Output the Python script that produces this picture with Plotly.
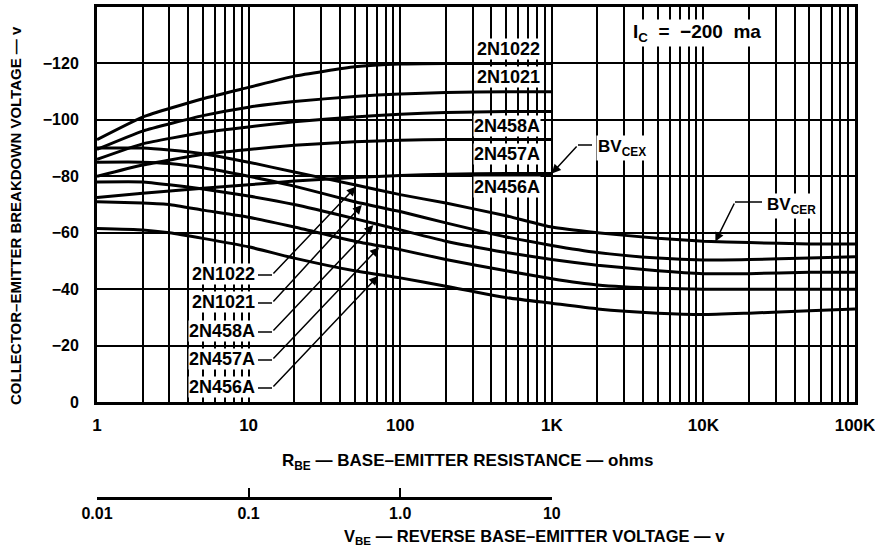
import numpy as np
import plotly.graph_objects as go

# ---------------- data ----------------
DEVICES = ["2N1022", "2N1021", "2N458A", "2N457A", "2N456A"]

# BV_CEX curves (rising), R_BE in ohms
R_CEX = [1, 2, 5, 10, 20, 50, 100, 200, 500, 1000]
CEX_2N1022 = [-93, -101, -107.5, -111.5, -115.5, -118.8, -119.8, -120, -120, -120]
CEX_2N1021 = [-89.5, -96, -101.5, -104.5, -106.5, -108.3, -109.2, -109.7, -110, -110]
CEX_2N458A = [-86, -91.5, -95.5, -97.5, -99.3, -101, -102, -102.6, -103, -103]
CEX_2N457A = [-80, -84, -87.8, -89.5, -91, -92.2, -92.8, -93, -93, -93]
CEX_2N456A = [-72.5, -74, -75.8, -77, -78.3, -79.6, -80.3, -80.7, -81, -81]

# BV_CER curves (falling)
R_CER = [1, 2, 3, 5, 10, 20, 50, 100, 200, 500, 1000, 2000, 5000, 10000, 20000, 50000, 100000]
CER_2N1022 = [-90, -90, -89.3, -88, -85, -81.5, -77, -73.5, -70.5, -66, -62, -60, -58, -57, -56.5, -56, -56]
CER_2N1021 = [-85, -85, -84.5, -83, -80, -76.5, -71, -67.5, -63.5, -58.5, -55.5, -53, -51, -50.3, -50.5, -51, -51.5]
CER_2N458A = [-78, -78, -77, -75.5, -73, -70, -65, -61, -57, -53, -50.5, -48.5, -46.5, -45.5, -45.5, -46, -46]
CER_2N457A = [-71, -70.5, -70, -68, -65.5, -62, -57, -54, -50.5, -46.5, -43.7, -41.5, -40.3, -40, -40, -40, -40]
CER_2N456A = [-61.5, -61, -60, -58, -55, -51, -46.5, -44, -41, -37, -35, -33, -31.5, -31, -31.5, -32.3, -33]

X_TICK_VALUES = [1, 10, 100, 1000, 10000, 100000]
X_TICK_LABELS = ["1", "10", "100", "1K", "10K", "100K"]
Y_TICK_VALUES = [0, -20, -40, -60, -80, -100, -120]
VBE_TICK_VALUES = [0.01, 0.1, 1, 10]
VBE_TICK_LABELS = ["0.01", "0.1", "1.0", "10"]

CEX_SERIES = [CEX_2N1022, CEX_2N1021, CEX_2N458A, CEX_2N457A, CEX_2N456A]
CER_SERIES = [CER_2N1022, CER_2N1021, CER_2N458A, CER_2N457A, CER_2N456A]

# ---------------- layout geometry (pixels) ----------------
W, H = 875, 548
ML, MR, MT, MB = 97, 20, 7, 51
PLOT_W = W - ML - MR          # 758
PAPER_H = H - MT - MB         # 490
Y_AXIS_BOTTOM = 402
Y_DOMAIN0 = (H - MB - Y_AXIS_BOTTOM) / PAPER_H
X_DEC = PLOT_W / 5.0
Y_PX_PER_UNIT = (Y_AXIS_BOTTOM - MT) / 140.0


def pxx(xp):
    return (xp - ML) / PLOT_W


def pxy(yp):
    return (H - MB - yp) / PAPER_H


def data_to_px(r, v):
    return ML + X_DEC * np.log10(r), Y_AXIS_BOTTOM - Y_PX_PER_UNIT * abs(v)


FONT = "Liberation Sans, Arial, sans-serif"
NARROW = "Liberation Sans Narrow, Liberation Sans, Arial, sans-serif"
CURVE_LINE = dict(color="black", width=3, shape="spline", smoothing=0.45)

fig = go.Figure()
for vals in CEX_SERIES:
    fig.add_trace(go.Scatter(x=R_CEX, y=vals, mode="lines", line=CURVE_LINE,
                             showlegend=False, hoverinfo="skip"))
for vals in CER_SERIES:
    fig.add_trace(go.Scatter(x=R_CER, y=vals, mode="lines", line=CURVE_LINE,
                             showlegend=False, hoverinfo="skip"))
# invisible trace carrying the secondary (V_BE) axis, on its own tiny hidden y axis
fig.add_trace(go.Scatter(x=VBE_TICK_VALUES, y=[None] * len(VBE_TICK_VALUES),
                         xaxis="x2", yaxis="y2",
                         mode="lines", showlegend=False, hoverinfo="skip"))

minor_vals = [m * 10 ** k for k in range(5) for m in range(2, 10)]

fig.update_layout(
    width=W, height=H,
    margin=dict(l=ML, r=MR, t=MT, b=MB, autoexpand=False),
    paper_bgcolor="white", plot_bgcolor="rgba(0,0,0,0)",
    font=dict(family=FONT, color="black", size=15, weight="bold"),
    xaxis=dict(type="log", range=[0, 5], domain=[0, 1], anchor="y", automargin=False,
               tickvals=X_TICK_VALUES, ticktext=X_TICK_LABELS,
               tickfont=dict(family=NARROW, size=17, weight="bold"),
               ticks="", ticklabelstandoff=6, ticklabeloverflow="allow",
               showgrid=True, gridcolor="black", gridwidth=2,
               minor=dict(tickvals=minor_vals, showgrid=True, gridcolor="black", gridwidth=2, ticks=""),
               showline=True, linecolor="black", linewidth=3, mirror=True, zeroline=False),
    yaxis=dict(range=[0, -140], domain=[Y_DOMAIN0, 1], anchor="x", automargin=False,
               tickvals=Y_TICK_VALUES, ticks="", ticklabelstandoff=12,
               tickfont=dict(size=16, weight="bold"),
               showgrid=True, gridcolor="black", gridwidth=2,
               showline=True, linecolor="black", linewidth=3, mirror=True, zeroline=False),
    xaxis2=dict(type="log", range=[-2, 1], domain=[0, 0.6], anchor="y2", automargin=False,
                tickvals=VBE_TICK_VALUES, ticktext=VBE_TICK_LABELS,
                tickfont=dict(family=NARROW, size=16, weight="bold"),
                ticks="inside", ticklen=9, tickwidth=2, tickcolor="black",
                ticklabeloverflow="allow",
                showline=True, linecolor="black", linewidth=2.5,
                showgrid=False, zeroline=False),
    yaxis2=dict(domain=[0, 0.005], anchor="x2", visible=False, showgrid=False,
                zeroline=False, automargin=False),
)

ann = []
shapes = []

# axis titles
ann.append(dict(xref="paper", yref="paper", x=pxx(467), y=pxy(462), xanchor="center", yanchor="middle",
                text="R<sub>BE</sub> — BASE–EMITTER RESISTANCE — ohms",
                showarrow=False, font=dict(family=NARROW, size=17, weight="bold")))
ann.append(dict(xref="paper", yref="paper", x=pxx(534), y=pxy(537), xanchor="center", yanchor="middle",
                text="V<sub>BE</sub> — REVERSE BASE–EMITTER VOLTAGE — v",
                showarrow=False, font=dict(family=NARROW, size=16.5, weight="bold")))
ann.append(dict(xref="paper", yref="paper", x=pxx(15), y=pxy(216), xanchor="center", yanchor="middle",
                textangle=-90,
                text="COLLECTOR–EMITTER BREAKDOWN VOLTAGE — v",
                showarrow=False, font=dict(size=15, weight="bold")))
ann.append(dict(xref="paper", yref="paper", x=pxx(697), y=pxy(33), xanchor="center", yanchor="middle",
                text="I<sub>C</sub>  =  −200  ma", showarrow=False, bgcolor="white",
                font=dict(size=19, weight="bold")))

# right-hand (BV_CEX) device labels
right_label_y = [49, 77, 126, 154, 187]
for name, yp in zip(DEVICES, right_label_y):
    ann.append(dict(xref="paper", yref="paper", x=pxx(541), y=pxy(yp), xanchor="right", yanchor="middle",
                    text=name, showarrow=False, bgcolor="white", borderpad=0,
                    font=dict(size=18, weight="bold")))

# left-hand (BV_CER) device labels with leaders
left_label_y = [274, 302, 331, 359, 387]
tip_r = [52, 57, 68, 74, 73]
for name, yp, rt, vals in zip(DEVICES, left_label_y, tip_r, CER_SERIES):
    ann.append(dict(xref="paper", yref="paper", x=pxx(256), y=pxy(yp), xanchor="right", yanchor="middle",
                    text=name, showarrow=False, bgcolor="white", borderpad=0,
                    font=dict(size=18, weight="bold")))
    vt = float(np.interp(np.log10(rt), np.log10(R_CER), vals))
    tx, ty = data_to_px(rt, vt)
    ex, ey = 272, yp + 1
    shapes.append(dict(type="line", xref="paper", yref="paper",
                       x0=pxx(258), y0=pxy(ey), x1=pxx(ex), y1=pxy(ey),
                       line=dict(color="black", width=1.5)))
    ann.append(dict(xref="x", yref="y", x=np.log10(rt), y=vt, text="",
                    showarrow=True, arrowhead=2, arrowsize=1.2, arrowwidth=1.5,
                    arrowcolor="black", axref="pixel", ayref="pixel",
                    ax=ex - tx, ay=ey - ty, standoff=2))


# BV_CEX / BV_CER callouts
def callout(text, x_text, y_text, r_tip, v_tip, elbow, h_end):
    tx, ty = data_to_px(r_tip, v_tip)
    ann.append(dict(xref="paper", yref="paper", x=pxx(x_text), y=pxy(y_text), xanchor="left",
                    yanchor="middle", text=text, showarrow=False, bgcolor="white",
                    font=dict(size=17, weight="bold")))
    shapes.append(dict(type="line", xref="paper", yref="paper",
                       x0=pxx(elbow[0]), y0=pxy(elbow[1]), x1=pxx(h_end), y1=pxy(elbow[1]),
                       line=dict(color="black", width=1.5)))
    ann.append(dict(xref="x", yref="y", x=np.log10(r_tip), y=v_tip, text="",
                    showarrow=True, arrowhead=2, arrowsize=1.2, arrowwidth=1.5,
                    arrowcolor="black", axref="pixel", ayref="pixel",
                    ax=elbow[0] - tx, ay=elbow[1] - ty, standoff=0))


callout("BV<sub>CEX</sub>", 596, 148, R_CEX[-1], CEX_2N456A[-1], (578, 145), 592)
r_cer_tip = 12000
callout("BV<sub>CER</sub>", 765, 206, r_cer_tip,
        float(np.interp(np.log10(r_cer_tip), np.log10(R_CER), CER_2N1022)), (735, 202), 762)

fig.update_layout(annotations=ann, shapes=shapes)
fig.write_html("out.html", config={"displayModeBar": False},
               post_script="document.body.style.margin='0';document.body.style.overflow='hidden';")
